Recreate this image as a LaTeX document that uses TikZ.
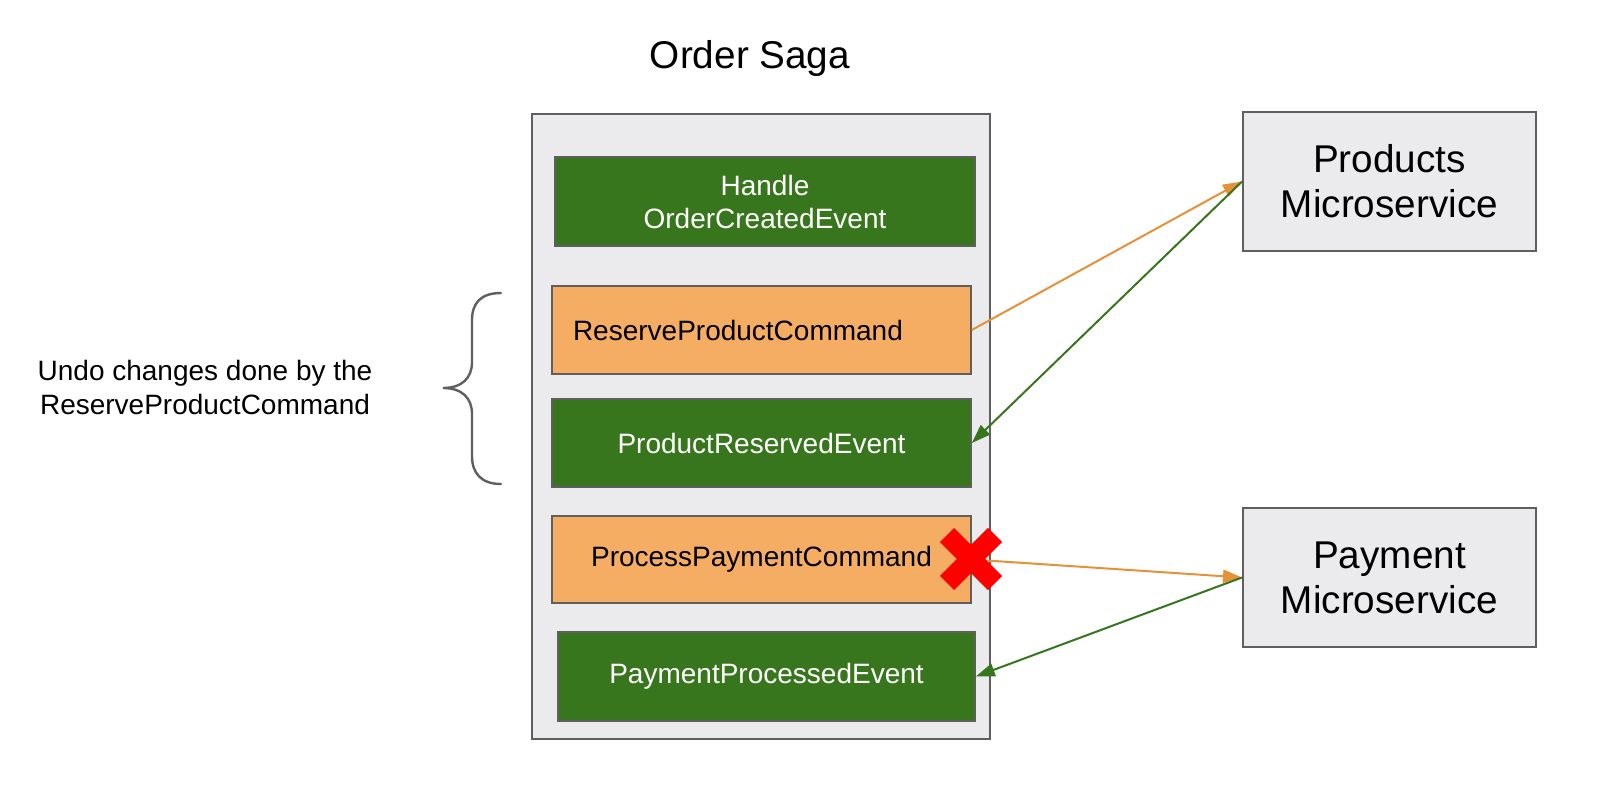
\documentclass[tikz,border=0pt]{standalone}
\usepackage{fontspec}
\setmainfont{Liberation Sans}
\usetikzlibrary{arrows.meta}

\definecolor{panelfill}{HTML}{EBEBEE}
\definecolor{edgegray}{HTML}{5F5F5F}
\definecolor{eventgreen}{HTML}{38761D}
\definecolor{cmdorange}{HTML}{F5AD63}
\definecolor{flowGreen}{HTML}{38761D}
\definecolor{flowOrange}{HTML}{E69138}
\definecolor{failred}{HTML}{FF0000}

\tikzset{
  panel/.style={draw=edgegray, line width=2pt, fill=panelfill, inner sep=0pt},
  eventbox/.style={draw=edgegray, line width=1.6pt, fill=eventgreen, text=white,
    inner sep=0pt, align=center, font=\fontsize{28}{33}\selectfont},
  cmdbox/.style={draw=edgegray, line width=1.6pt, fill=cmdorange, text=black,
    inner sep=0pt, align=center, font=\fontsize{28}{33}\selectfont},
  servicebox/.style={draw=edgegray, line width=2pt, fill=panelfill, inner sep=0pt,
    minimum width=293pt, minimum height=139pt, align=center,
    font=\fontsize{38.7}{45}\selectfont},
  sendarrow/.style={draw=flowOrange, line width=2pt,
    -{Triangle[length=19pt,width=13pt]}},
  replyarrow/.style={draw=flowGreen, line width=2pt,
    -{Triangle[length=19pt,width=13pt]}},
  crossbar/.style={draw=failred, line width=20pt},
}

\begin{document}
\begin{tikzpicture}[x=1pt,y=-1pt]
  \useasboundingbox (0,0) rectangle (1601,792);
  \fill[white] (0,0) rectangle (1601,792);

  % title
  \node[font=\fontsize{38.7}{45}\selectfont] (title) at (750,58) {Order Saga};

  % saga container and its steps
  \node[panel, minimum width=458pt, minimum height=625pt] (saga) at (761,426.5) {};
  \node[eventbox, minimum width=420pt, minimum height=89pt] (handle) at (765,201.5)
    {Handle\\OrderCreatedEvent};
  \node[cmdbox, minimum height=88pt, text width=377pt, inner xsep=21pt, align=left]
    (reserve) at (761.5,330) {ReserveProductCommand};
  \node[eventbox, minimum width=419pt, minimum height=88pt] (reserved) at (761.5,443)
    {ProductReservedEvent};
  \node[cmdbox, minimum width=419pt, minimum height=87pt] (process) at (761.5,559.5)
    {ProcessPaymentCommand};
  \node[eventbox, minimum width=417pt, minimum height=89pt] (processed) at (766.5,676.5)
    {PaymentProcessedEvent};

  % microservices
  \node[servicebox] (products) at (1389.5,181.5) {Products\\Microservice};
  \node[servicebox] (payment) at (1389.5,577.5) {Payment\\Microservice};

  % message flow
  \draw[sendarrow] (reserve.east) -- (products.west);
  \draw[replyarrow] (products.west) -- (reserved.east);
  \draw[sendarrow] (process.east) -- (payment.west);
  \draw[replyarrow] (payment.west) -- (processed.east);

  % failed step marker
  \coordinate (fail) at (971,559);
  \draw[crossbar] ([shift={(-24,-24)}]fail) -- ([shift={(24,24)}]fail);
  \draw[crossbar] ([shift={(-24,24)}]fail) -- ([shift={(24,-24)}]fail);

  % compensation brace and note
  \draw[edgegray, line width=2.4pt, line cap=round]
    (501,293) .. controls (481,293) and (472,303) .. (472,320)
    -- (472,362) .. controls (472,378) and (462,388) .. (443,388)
    .. controls (462,388) and (472,398) .. (472,414)
    -- (472,456) .. controls (472,473) and (481,484) .. (501,484);
  \node[align=center, font=\fontsize{28}{34}\selectfont] (note) at (205,387)
    {Undo changes done by the\\ReserveProductCommand};
\end{tikzpicture}
\end{document}
